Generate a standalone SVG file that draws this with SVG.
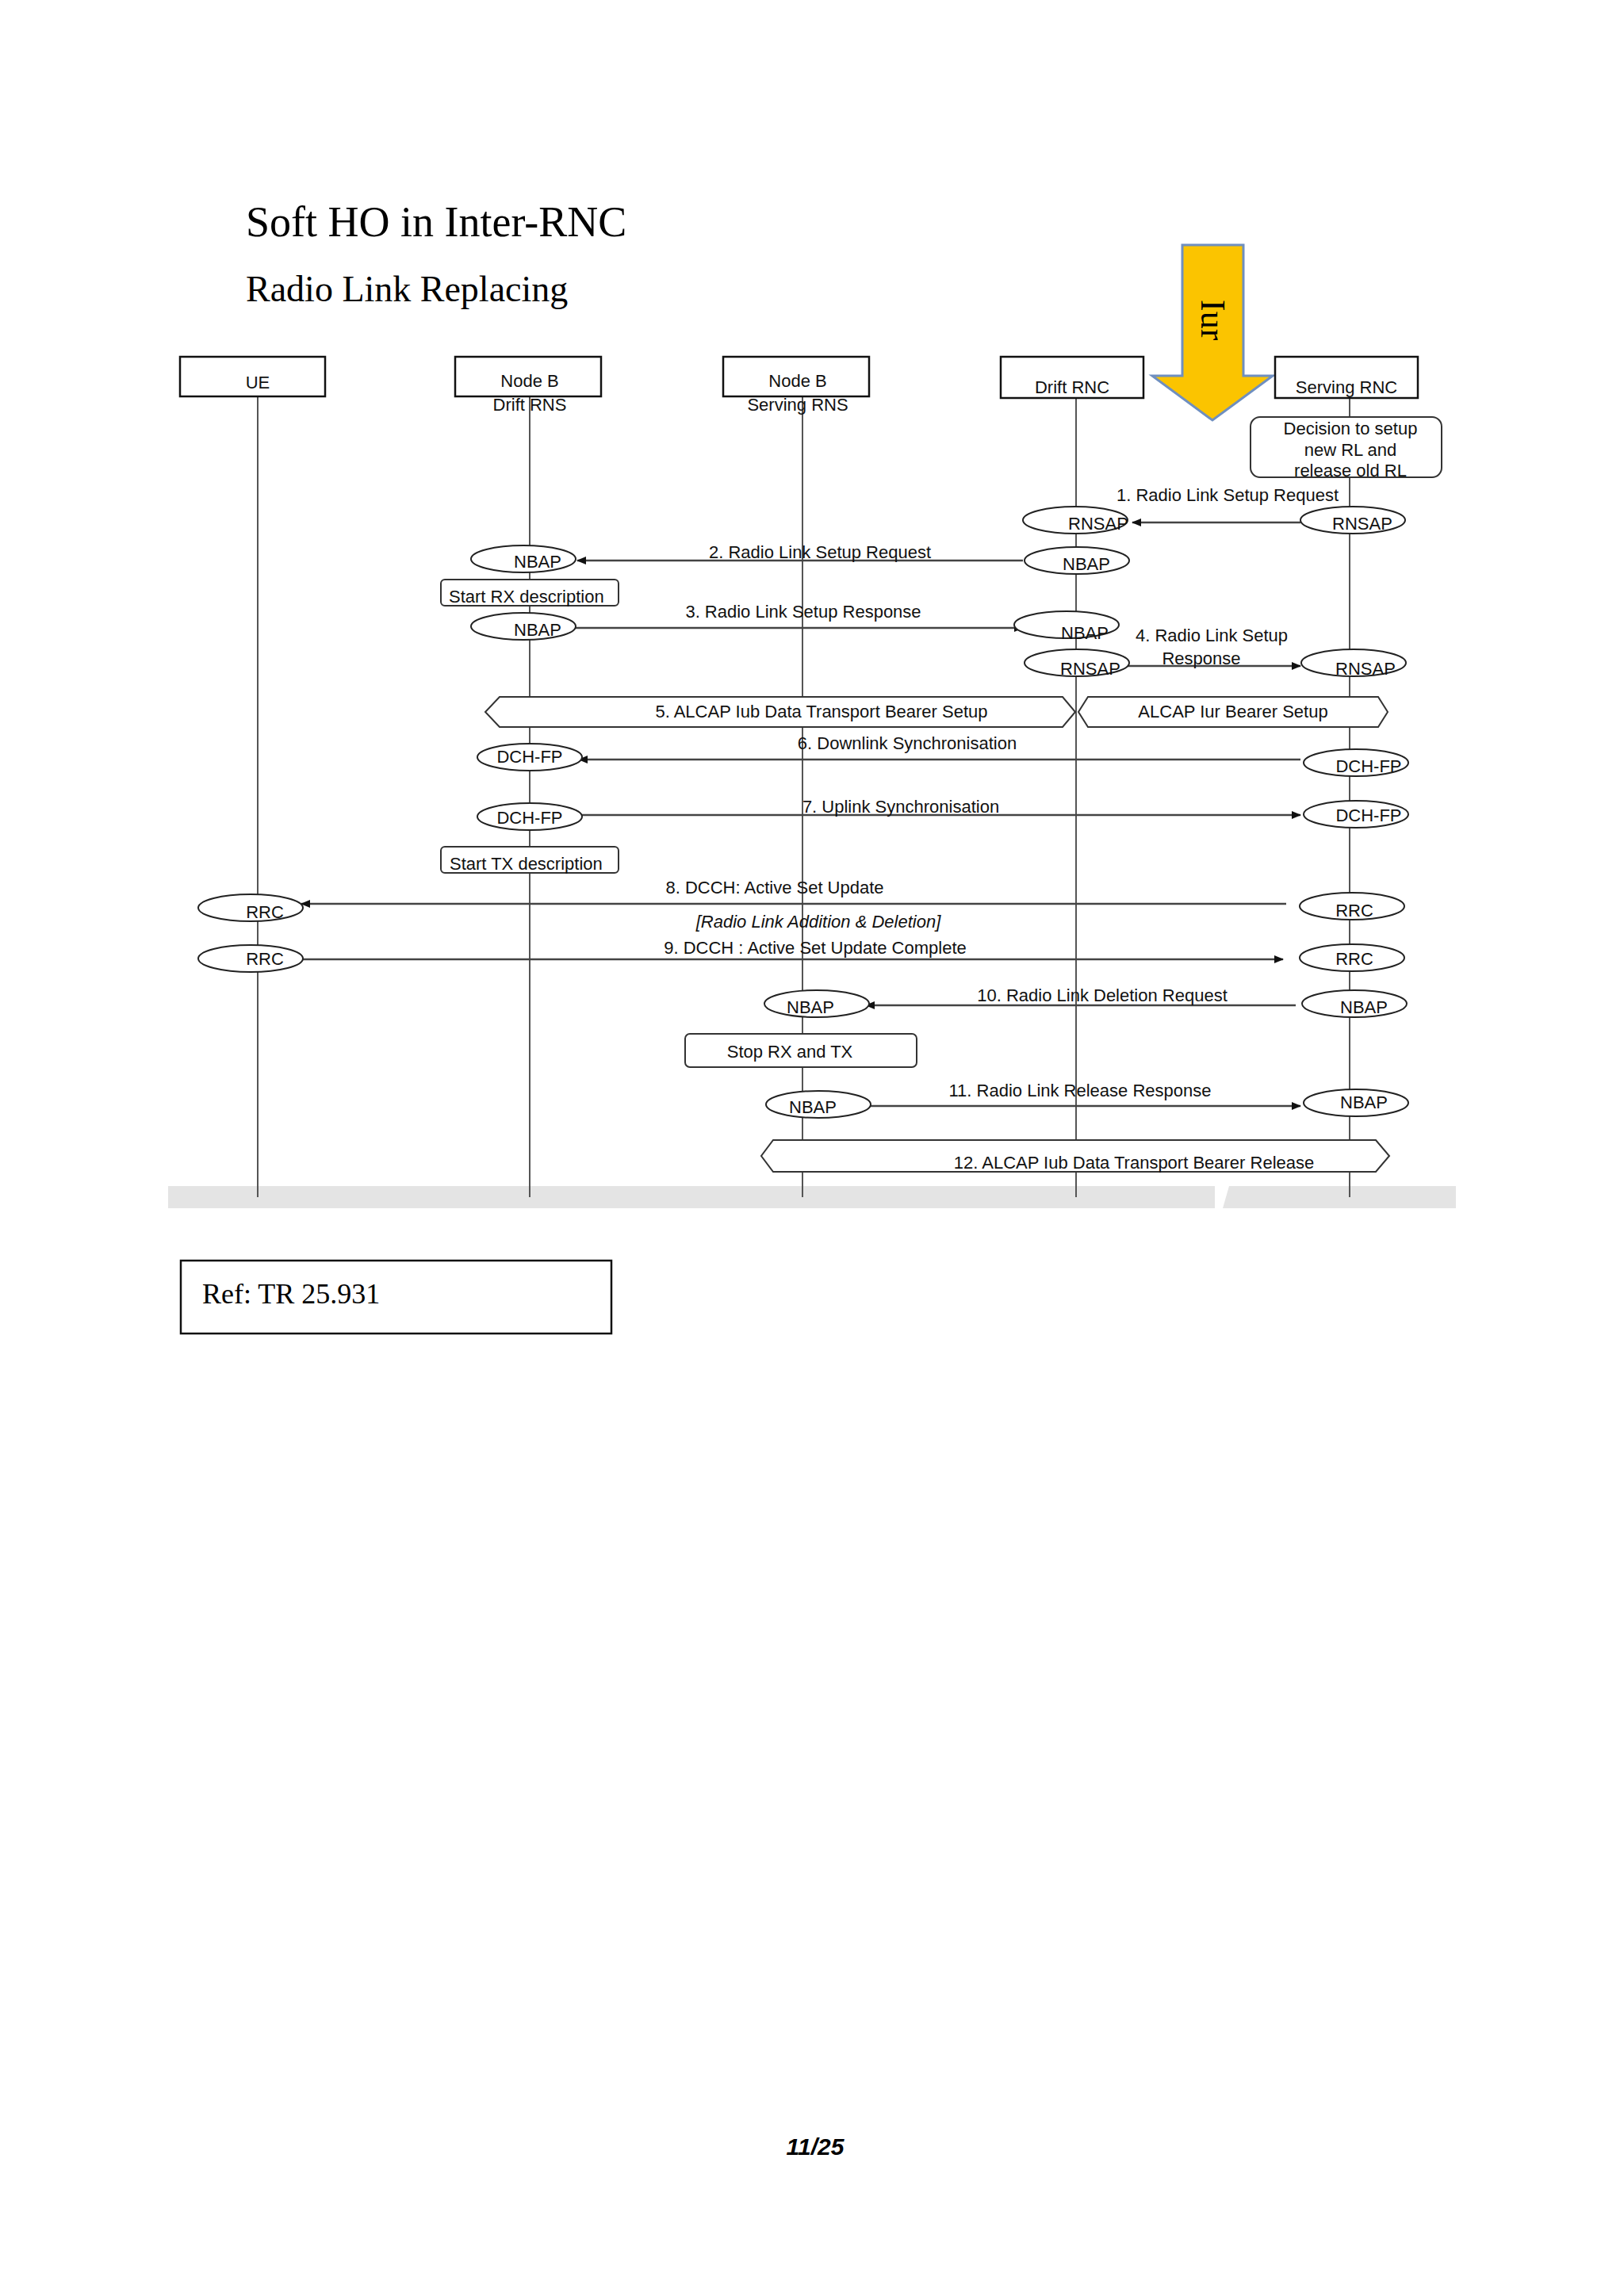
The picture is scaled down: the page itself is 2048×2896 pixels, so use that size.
<svg xmlns="http://www.w3.org/2000/svg" width="2048" height="2896" viewBox="0 0 2048 2896">
<style>
.t{font-family:"Liberation Sans",Arial,sans-serif;font-size:22px;fill:#111}
.m{text-anchor:middle}
.s{font-family:"Liberation Serif","Times New Roman",serif;fill:#000}
.box{fill:#fff;stroke:#111;stroke-width:2.5}
.life{stroke:#555;stroke-width:2}
.e{fill:#fff;stroke:#222;stroke-width:2}
.msg{stroke:#444;stroke-width:2.5;fill:none}
.nb{fill:#fff;stroke:#333;stroke-width:2}
</style>
<defs>
<marker id="ah" markerWidth="12" markerHeight="10" refX="11" refY="5" orient="auto" markerUnits="userSpaceOnUse">
<path d="M0,0 L12,5 L0,10 z" fill="#111"/>
</marker>
</defs>
<rect width="2048" height="2896" fill="#fff"/>
<text class="s" x="310" y="298" font-size="54">Soft HO in Inter-RNC</text>
<text class="s" x="310" y="380" font-size="46">Radio Link Replacing</text>

<rect x="212" y="1496" width="1320" height="28" fill="#e4e4e4"/>
<polygon points="1550,1496 1836,1496 1836,1524 1542,1524" fill="#e4e4e4"/>

<g id="lifelines">
<line class="life" x1="325" y1="500" x2="325" y2="1510"/>
<line class="life" x1="668" y1="500" x2="668" y2="1510"/>
<line class="life" x1="1012" y1="500" x2="1012" y2="1510"/>
<line class="life" x1="1357" y1="500" x2="1357" y2="1510" stroke="#111"/>
<line class="life" x1="1702" y1="500" x2="1702" y2="1510"/>
</g>

<g id="iur">
<polygon points="1491,309 1568,309 1568,474 1605,474 1529,530 1453,474 1491,474" fill="#fbc400" stroke="#6f8fc0" stroke-width="3"/>
<text class="s" font-size="44" transform="translate(1515,378) rotate(90)">Iur</text>
</g>

<g id="UE"><rect class="box" x="227" y="450" width="183" height="50"/><text class="t m" x="325" y="490" font-size="24">UE</text></g>
<g id="NodeBDrift"><rect class="box" x="574" y="450" width="184" height="50"/><text class="t m" x="668" y="488" font-size="24">Node B</text><text class="t m" x="668" y="518" font-size="24">Drift RNS</text></g>
<g id="NodeBServing"><rect class="box" x="912" y="450" width="184" height="50"/><text class="t m" x="1006" y="488" font-size="24">Node B</text><text class="t m" x="1006" y="518" font-size="24">Serving RNS</text></g>
<g id="DriftRNC"><rect class="box" x="1262" y="450" width="180" height="52"/><text class="t m" x="1352" y="496" font-size="24">Drift RNC</text></g>
<g id="ServingRNC"><rect class="box" x="1608" y="450" width="180" height="52"/><text class="t m" x="1698" y="496" font-size="24">Serving RNC</text></g>
<g id="Decision"><rect class="nb" x="1577" y="526" width="241" height="76" rx="12"/><text class="t m" x="1703" y="548">Decision to setup</text><text class="t m" x="1703" y="575">new RL and</text><text class="t m" x="1703" y="601">release old RL</text></g>

<g id="connectors">
<line class="msg" x1="1640" y1="659" x2="1428" y2="659" marker-end="url(#ah)"/>
<line class="msg" x1="1290" y1="707" x2="728" y2="707" marker-end="url(#ah)"/>
<line class="msg" x1="726" y1="792" x2="1290" y2="792" marker-end="url(#ah)"/>
<line class="msg" x1="1422" y1="840" x2="1640" y2="840" marker-end="url(#ah)"/>
<line class="msg" x1="1640" y1="958" x2="730" y2="958" marker-end="url(#ah)"/>
<line class="msg" x1="730" y1="1028" x2="1640" y2="1028" marker-end="url(#ah)"/>
<line class="msg" x1="1622" y1="1140" x2="380" y2="1140" marker-end="url(#ah)"/>
<line class="msg" x1="380" y1="1210" x2="1618" y2="1210" marker-end="url(#ah)"/>
<line class="msg" x1="1634" y1="1268" x2="1092" y2="1268" marker-end="url(#ah)"/>
<line class="msg" x1="1094" y1="1395" x2="1640" y2="1395" marker-end="url(#ah)"/>
</g>

<g id="labels">
<text class="t m" x="1548" y="632">1. Radio Link Setup Request</text>
<text class="t m" x="1034" y="704">2. Radio Link Setup Request</text>
<text class="t m" x="1013" y="779">3. Radio Link Setup Response</text>
<text class="t m" x="1528" y="809">4. Radio Link Setup</text>
<text class="t m" x="1515" y="838">Response</text>
<text class="t m" x="1144" y="945">6. Downlink Synchronisation</text>
<text class="t m" x="1136" y="1025">7. Uplink Synchronisation</text>
<text class="t m" x="977" y="1127">8. DCCH: Active Set Update</text>
<text class="t m" x="1032" y="1170" font-style="italic">[Radio Link Addition &amp; Deletion]</text>
<text class="t m" x="1028" y="1203">9. DCCH : Active Set Update Complete</text>
<text class="t m" x="1390" y="1263">10. Radio Link Deletion  Request</text>
<text class="t m" x="1362" y="1383">11. Radio Link Release Response</text>
</g>

<g id="hex5"><polygon class="nb" points="630,879 1340,879 1356,898 1340,917 630,917 612,898"/><text class="t m" x="1036" y="905">5. ALCAP Iub Data Transport Bearer Setup</text></g>
<g id="hexIur"><polygon class="nb" points="1372,879 1738,879 1750,898 1738,917 1372,917 1360,898"/><text class="t m" x="1555" y="905">ALCAP Iur Bearer Setup</text></g>
<g id="hex12"><polygon class="nb" points="975,1438 1735,1438 1752,1458 1735,1478 975,1478 960,1458"/><text class="t m" x="1430" y="1474">12. ALCAP Iub Data Transport Bearer Release</text></g>

<g id="StartRX"><rect class="nb" x="556" y="731" width="224" height="33" rx="5"/><text class="t" x="566" y="760">Start RX description</text></g>
<g id="StartTX"><rect class="nb" x="556" y="1068" width="224" height="33" rx="5"/><text class="t" x="567" y="1097">Start TX description</text></g>
<g id="StopRXTX"><rect class="nb" x="864" y="1304" width="292" height="42" rx="6"/><text class="t m" x="996" y="1334">Stop RX  and TX</text></g>

<g id="ellipses">
<ellipse class="e" cx="1356" cy="656" rx="66" ry="17"/><text class="t m" x="1385" y="668">RNSAP</text>
<ellipse class="e" cx="1706" cy="656" rx="66" ry="17"/><text class="t m" x="1718" y="668">RNSAP</text>
<ellipse class="e" cx="660" cy="705" rx="66" ry="17"/><text class="t m" x="678" y="716">NBAP</text>
<ellipse class="e" cx="1358" cy="707" rx="66" ry="17"/><text class="t m" x="1370" y="719">NBAP</text>
<ellipse class="e" cx="660" cy="790" rx="66" ry="17"/><text class="t m" x="678" y="802">NBAP</text>
<ellipse class="e" cx="1345" cy="788" rx="66" ry="17"/><text class="t m" x="1368" y="806">NBAP</text>
<ellipse class="e" cx="1358" cy="836" rx="66" ry="17"/><text class="t m" x="1375" y="851">RNSAP</text>
<ellipse class="e" cx="1707" cy="836" rx="66" ry="17"/><text class="t m" x="1722" y="851">RNSAP</text>
<ellipse class="e" cx="668" cy="955" rx="66" ry="17"/><text class="t m" x="668" y="962">DCH-FP</text>
<ellipse class="e" cx="1710" cy="962" rx="66" ry="17"/><text class="t m" x="1726" y="974">DCH-FP</text>
<ellipse class="e" cx="668" cy="1030" rx="66" ry="17"/><text class="t m" x="668" y="1039">DCH-FP</text>
<ellipse class="e" cx="1710" cy="1027" rx="66" ry="17"/><text class="t m" x="1726" y="1036">DCH-FP</text>
<ellipse class="e" cx="316" cy="1145" rx="66" ry="17"/><text class="t m" x="334" y="1158">RRC</text>
<ellipse class="e" cx="1705" cy="1143" rx="66" ry="17"/><text class="t m" x="1708" y="1156">RRC</text>
<ellipse class="e" cx="316" cy="1209" rx="66" ry="17"/><text class="t m" x="334" y="1217">RRC</text>
<ellipse class="e" cx="1705" cy="1208" rx="66" ry="17"/><text class="t m" x="1708" y="1217">RRC</text>
<ellipse class="e" cx="1030" cy="1266" rx="66" ry="17"/><text class="t m" x="1022" y="1278">NBAP</text>
<ellipse class="e" cx="1708" cy="1266" rx="66" ry="17"/><text class="t m" x="1720" y="1278">NBAP</text>
<ellipse class="e" cx="1032" cy="1393" rx="66" ry="17"/><text class="t m" x="1025" y="1404">NBAP</text>
<ellipse class="e" cx="1710" cy="1391" rx="66" ry="17"/><text class="t m" x="1720" y="1398">NBAP</text>
</g>

<g id="ref"><rect x="228" y="1590" width="543" height="92" fill="#fff" stroke="#111" stroke-width="2.5"/><text class="s" x="255" y="1644" font-size="36">Ref: TR 25.931</text></g>
<text x="1028" y="2718" font-family="Liberation Sans,Arial,sans-serif" font-size="30" font-weight="bold" font-style="italic" text-anchor="middle" fill="#000">11/25</text>
</svg>
